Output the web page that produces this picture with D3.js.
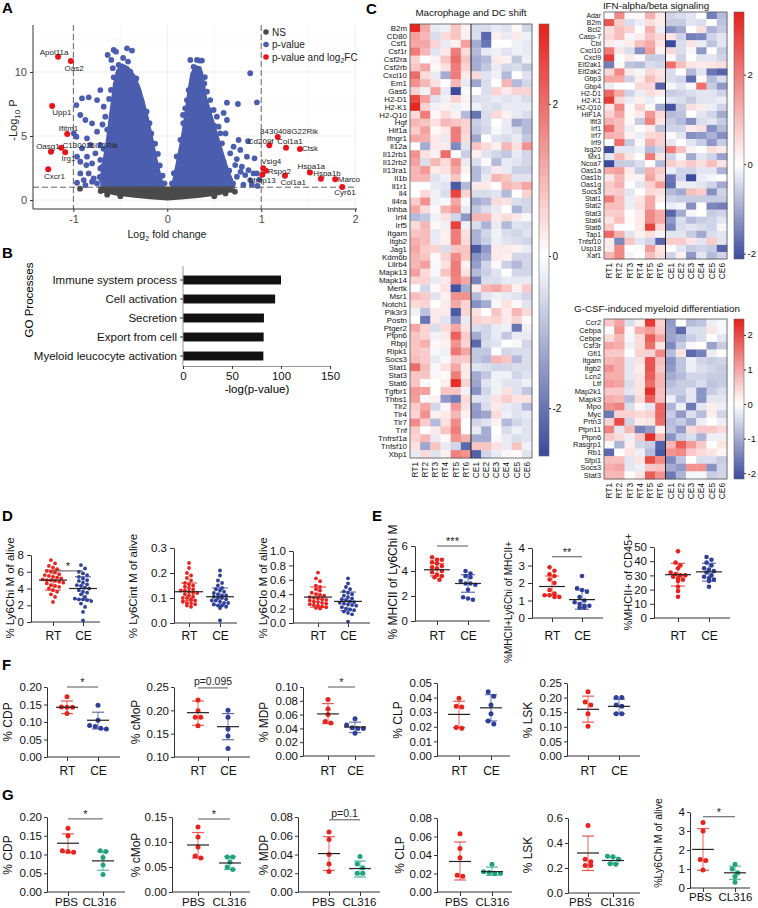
<!DOCTYPE html>
<html><head><meta charset="utf-8">
<script src="https://cdn.jsdelivr.net/npm/d3@7/dist/d3.min.js"></script>
<style>
html,body{margin:0;padding:0;background:#fff;}
svg{display:block;font-family:"Liberation Sans",Arial,Helvetica,sans-serif;}
</style></head>
<body><svg id="fig" width="758" height="908"></svg>
<script>
// ================= DATA =================
// ---- Panel A: volcano ----
const volcanoLegendLabels = ["NS", "p-value", "p-value and log"];
const volcanoXTicks = [-1, 0, 1, 2];
const volcanoYTicks = [0, 5, 10];
const volcanoGridX = [-1, -0.5, 0, 0.5, 1, 1.5, 2];
const volcanoGridY = [0, 2.5, 5, 7.5, 10, 12.5];
const fcCutoffs = [-1, 1];
const pCutoff = 1;
const redGenes = ["Apol11a","Oas2","Upp1","Ifitm1","Oasg1","C130026I21Rik","Irg1","Cxcr1","8430408G22Rik","Cd209f","Col1a1","Ctsk","Vsig4","Rspo2","Mmp13","Col1a1","Hspa1a","Hspa1b","Marco","Cyr61"];
const redFC = [-1.163,-1.027,-1.226,-1.066,-1.239,-1.13,-1.087,-1.268,1.176,1.086,1.264,1.413,1.022,1.048,1.012,1.253,1.519,1.636,1.788,1.863];
const redLogP = [11.2,10.86,7.34,5.16,3.77,4.09,3.73,2.4,4.92,4.27,4.09,3.98,2.48,2.29,1.98,1.9,2.16,1.66,1.62,1.02];
// dense clouds (outline of the overlapping points) [log2FC, -log10P]
const blueCloudLeft = [[-0.713,1.0],[-0.713,2.08],[-0.677,3.65],[-0.649,4.95],[-0.624,6.51],[-0.599,7.81],[-0.578,9.11],[-0.543,10.16],[-0.482,10.68],[-0.411,10.42],[-0.34,9.77],[-0.287,8.85],[-0.245,7.81],[-0.199,6.51],[-0.152,4.95],[-0.11,3.39],[-0.067,2.08],[-0.032,1.1],[-0.032,0.9],[-0.713,0.9]];
const blueCloudRight = [[0.039,0.9],[0.039,1.04],[0.067,2.08],[0.103,3.39],[0.138,4.69],[0.167,5.99],[0.191,7.29],[0.216,8.59],[0.245,9.9],[0.298,10.55],[0.362,10.42],[0.394,9.38],[0.422,8.07],[0.475,6.77],[0.528,5.47],[0.582,4.17],[0.635,2.86],[0.688,1.82],[0.723,1.04],[0.723,0.9]];
const grayCloud = [[-0.74,1.05],[-0.72,0.6],[-0.55,0.35],[-0.35,0.18],[-0.15,0.04],[0,-0.04],[0.15,0.04],[0.35,0.18],[0.55,0.38],[0.68,0.62],[0.70,1.05]];
const blueScatter = [[-0.635,11.33],[-0.571,11.72],[-0.546,11.59],[-0.429,11.85],[-0.376,11.67],[-0.596,10.94],[-0.518,10.55],[-0.457,10.29],[-0.418,10.81],[-0.394,10.03],[-0.571,9.58],[-0.507,9.43],[-0.447,9.69],[-0.358,9.38],[-0.323,8.8],[-0.713,8.59],[-0.908,7.94],[-0.837,8.02],[-0.968,7.42],[-0.748,7.81],[-0.677,7.29],[-0.926,6.64],[-0.872,6.25],[-0.801,5.99],[-0.748,5.34],[-0.713,4.3],[-0.961,3.39],[-0.926,2.99],[-0.862,2.73],[-0.837,2.08],[-0.784,1.69],[-0.89,1.56],[-0.748,1.3],[-0.996,5.21],[-0.968,4.95],[-0.855,4.82],[-0.819,4.3],[-0.908,4.04],[-0.766,3.65],[-0.855,3.39],[-0.713,3.13],[-0.801,2.86],[-0.713,2.47],[-0.66,2.08],[-0.695,1.56],[-0.926,2.08],[-0.961,1.35],[-0.872,1.17],[-0.801,1.43],[-0.66,6.51],[-0.64,5.5],[-0.69,5.9],[-0.62,7.9],[-0.6,8.6],[-0.52,9.9],[-0.47,11.1],[-0.33,9.5],[-0.3,8.4],[-0.27,7.6],[-0.22,6.9],[-0.19,6.0],[-0.17,5.2],[-0.13,4.4],[-0.1,3.6],[-0.08,2.7],[-0.05,1.9],[-0.03,1.3],[-0.69,2.6],[-0.68,4.0],[-0.72,1.8],[-0.58,10.3],[-0.55,9.0],
[0.245,10.94],[0.316,10.94],[0.344,10.89],[0.369,10.89],[0.298,10.16],[0.351,9.9],[0.28,9.38],[0.394,9.11],[0.333,8.85],[0.422,8.46],[0.351,8.2],[0.262,8.07],[0.457,7.81],[0.493,7.03],[0.528,6.51],[0.546,5.73],[0.564,5.21],[0.635,7.6],[0.752,7.5],[0.883,9.9],[0.954,7.63],[0.759,4.69],[0.706,4.17],[0.67,3.65],[0.848,3.39],[0.929,3.26],[0.723,2.73],[0.794,2.6],[0.865,2.34],[0.918,2.08],[0.83,1.95],[0.741,1.82],[0.67,1.56],[0.883,1.56],[0.954,2.08],[0.635,6.25],[0.582,4.43],[0.777,3.91],[0.528,3.65],[0.191,7.16],[0.167,6.64],[0.209,7.81],[0.227,8.59],[0.262,8.85],[0.1,3.4],[0.07,2.1],[0.05,1.3],[0.14,4.7],[0.17,6.0],[0.6,3.0],[0.66,2.3],[0.7,1.3],[0.45,7.0],[0.5,5.8],[0.4,9.6],[0.28,10.4],[0.9,1.2],[0.96,1.1],[0.98,1.6],[0.81,1.2],[0.86,4.6],[0.6,6.8],[0.62,5.2],[0.74,3.2],[0.78,2.2],[0.56,2.0],[0.45,3.0]];
const grayScatter = [[-0.93,0.89],[-0.65,0.78],[-0.64,0.42],[0.62,0.52],[0.72,0.65],[-0.71,0.7],[0.68,0.8],[-0.5,0.3],[0.5,0.3]];

// ---- Panel B ----
const goTerms = ["Immune system process","Cell activation","Secretion","Export from cell","Myeloid leucocyte activation"];
const goValues = [100, 94, 82.6, 82.3, 82];
const goTicks = [0, 50, 100, 150];

// ---- Panel C heatmaps ----
const samples = ["RT1","RT2","RT3","RT4","RT5","RT6","CE1","CE2","CE3","CE4","CE5","CE6"];
const macroGenes = ["B2m","CD80","Csf1","Csf1r","Csf2ra","Csf2rb","Cxcl10","Em1","Gas6","H2-D1","H2-K1","H2-Q10","Hgf","Hif1a","Ifngr1","Il12a","Il12rb1","Il12rb2","Il13ra1","Il1b","Il1r1","Il4","Il4ra","Inhba","Irf4","Irf5","Itgam","Itgb2","Jag1","Kdm6b","Lilrb4","Mapk13","Mapk14","Mertk","Msr1","Notch1","Pik3r3","Postn","Ptger2","Ptpn6","Rbpj","Ripk1","Socs3","Stat1","Stat3","Stat6","Tgfbr1","Thbs1","Tlr2","Tlr4","Tlr7","Tnf","Tnfrsf1a","Tnfsf10","Xbp1"];
const macroValues = [
[3,1.2,-0.3,-0.2,0.8,0.2,-0.5,-0.5,-0.3,-0.4,0.1,-0.6],
[1.3,1.0,-0.5,0.5,0.8,0.2,-0.5,-2.2,0.2,-0.3,0.3,-0.2],
[1.2,1.2,0.6,-0.3,0.2,1.3,-1.2,-2.0,0,0,-0.2,-0.3],
[1.8,1.0,-0.4,0.3,1.8,0.5,-1.0,-0.3,-0.2,-0.4,-0.2,-0.3],
[0.6,0,0.2,0.8,2.0,0.8,-1.2,-1.0,0.3,0.2,-0.8,-0.2],
[0.8,1.2,0.1,0.4,1.8,0.6,-1.2,-0.8,-0.3,-0.6,-0.5,-0.8],
[2.0,0.5,-0.3,-1.2,1.8,0.3,0.5,-0.4,-0.2,-1.0,0,-0.4],
[1.5,1.0,0.4,0,1.0,-0.3,-1.3,-0.5,0,1.0,-1.0,-0.6],
[0.6,-0.2,1.3,-0.3,-2.6,-0.1,0,-0.5,0.6,0.3,0.6,0.6],
[2.5,1.3,-0.4,-0.2,0.6,0.2,-0.5,-0.4,-0.3,-0.4,-0.3,-0.5],
[3.0,0.6,-0.2,0.2,-0.2,-0.1,-0.2,-0.4,-0.5,-0.3,-0.3,-0.3],
[0.5,1.8,0.1,0.5,0.2,-1.0,-2.0,-0.5,0.5,0.2,-0.3,-0.5],
[1.0,0.8,0.4,1.0,0.8,0.6,-0.7,-0.5,0,-0.3,-1.3,-1.0],
[0.7,1.3,0.1,0.3,1.8,0.6,-0.8,-0.6,-0.1,-0.3,-0.5,-1.0],
[1.2,1.1,0.3,-0.3,1.8,0.5,-1.3,0,-0.4,-0.5,-0.3,-0.8],
[0,-1.2,0.3,0.3,-1.7,-0.4,0.8,0.5,0.2,1.0,0.4,1.5],
[1.5,0.4,0.2,2.0,0,-0.7,0.2,-0.4,-0.6,-0.8,-0.3,-0.6],
[1.3,-0.5,1.0,0.5,1.5,-0.3,-0.5,0.1,-1.0,-0.3,-0.4,-0.6],
[1.0,1.4,0.3,0.4,1.2,0.2,-1.0,-0.5,0.3,-0.3,-0.7,-0.7],
[1.0,1.0,-0.4,-0.2,0.8,0,-1.0,-0.3,1.0,0.8,-0.4,-0.4],
[0,0,-0.3,-0.4,-2.4,-1.0,0.3,0.3,0,1.0,0.8,1.2],
[0,0.5,-0.2,-0.5,2.6,0.6,-0.5,-0.5,-0.4,-1.0,0,0.6],
[0.7,1.5,-0.2,-0.1,1.2,-0.1,-1.2,-1.0,0.5,0.4,-0.5,-0.6],
[1.2,0.5,-0.1,1.0,1.5,-0.3,-0.8,-0.5,-0.3,0,-1.1,-0.6],
[-1.0,-0.8,-0.2,0.4,-0.6,-1.5,1.0,1.0,0.3,0.5,0.3,-0.1],
[0.5,1.0,0.1,-0.2,2.6,-0.2,-0.5,-1.1,-0.3,-1.0,-0.4,-0.5],
[0.8,0.9,-0.3,0.2,1.8,0.4,-1.1,-0.6,-0.2,-0.5,-0.6,-0.4],
[1.1,0.9,-0.3,0.2,1.8,0.5,-1.1,-0.7,-0.2,-0.4,-0.5,-0.6],
[1.2,0.7,0.6,-0.5,0.8,0.8,-2.4,-1.5,0.3,0.3,0.2,-0.3],
[1.0,0.8,0.1,0.6,1.6,0.8,-1.6,-1.2,0.3,0.2,-0.6,-0.6],
[1.0,1.3,-0.1,0.4,1.8,0.2,-1.4,-0.6,0.1,-0.7,-1.0,-0.6],
[1.3,0.5,-0.1,0.8,1.8,0.4,-1.0,-0.7,-0.4,0,-0.6,-0.6],
[0.6,0.6,-0.3,0.3,1.7,1.2,-1.8,-0.5,-0.5,-0.3,-0.3,-0.3],
[0,-0.6,0.1,0.4,-2.5,-1.2,0.3,1.0,1.2,0.8,0.2,0.7],
[0.9,0.7,-0.4,0.2,1.5,1.5,-1.0,-0.4,-0.2,-0.3,-0.4,-0.6],
[0.5,0.6,0,0.3,1.2,0.6,-1.6,-1.2,-0.1,0.4,0.1,-0.4],
[-0.2,-0.9,0.3,0.3,-2.4,0.6,0.4,0,0.8,0.3,1.0,0.5],
[0,-2.0,0.3,-0.4,-1.6,-0.3,0.6,0.5,0.6,0.3,0.6,0.1],
[1.2,0.6,-0.5,0.5,1.2,0.4,-0.5,-0.6,-0.3,-0.2,-2.0,-0.2],
[0.8,0.6,-0.2,0.3,2.2,0.7,-1.2,-0.6,-0.3,-0.8,-0.3,-0.3],
[0.8,1.1,0.1,0.2,1.5,0.6,-2.2,-0.5,-0.4,0,-0.1,-0.6],
[0.8,0.7,-0.1,-0.2,1.9,1.2,-0.8,-0.8,0,-0.6,-0.5,-0.5],
[0.9,0.7,-0.3,-0.1,0.8,0.7,-0.8,-1.0,1.0,0.8,-1.0,-0.5],
[2.0,0.9,-0.1,0.4,1.2,0.3,-0.4,-0.5,-0.6,-0.6,-0.5,-0.5],
[0.8,0.8,-0.1,0.1,1.8,0.3,-1.2,-0.8,-0.2,-0.2,-0.6,-0.4],
[0.8,-0.1,0,0.2,2.9,0.6,-1.3,-0.4,-0.2,-0.4,-0.4,-0.2],
[1.4,1.3,0,0.8,0.8,-0.2,-1.6,-0.6,-0.2,0.4,-0.4,-0.8],
[1.3,-0.1,0.2,-1.5,-1.9,0.5,-0.4,-0.4,0.4,0.7,0.4,0.4],
[0.7,1.2,-0.6,-0.1,1.4,0.4,-1.4,-0.5,0.3,-0.3,-0.4,-1.0],
[0.6,1.5,0.2,0.3,1.0,0.2,-1.5,-1.3,0.5,-0.2,-0.4,-0.3],
[1.6,0.7,-1.0,0.4,1.6,0,-0.6,-0.4,0.2,-1.0,-0.6,-0.4],
[0.7,0,0.3,0.8,1.8,0,-0.3,-1.2,0,-0.5,-0.2,-0.4],
[0.6,1.0,-0.3,0.1,1.5,1.1,-1.2,-1.2,-0.1,-0.3,-0.5,-0.4],
[0.4,-1.3,0.8,-0.3,-0.6,-2.2,0.8,0.8,0.4,-0.3,0.8,-0.2],
[-0.3,0.5,-0.4,0.2,1.7,1.5,-2.3,-0.6,-0.3,-0.1,0.1,-0.4]];
const ifnGenes = ["Adar","B2m","Bcl2","Casp-7","Cbl","Cxcl10","Cxcl9","Eif2ak1","Eif2ak2","Gbp3","Gbp4","H2-D1","H2-K1","H2-Q10","HIF1A","Ifit3","Irf1","Irf7","Irf9","Isg20","Mx1","Ncoa7","Oas1a","Oas1b","Oas1g","Socs3","Stat1","Stat2","Stat3","Stat4","Stat6","Tap1","Tnfsf10","Usp18","Xaf1"];
const ifnValues = [
[0,1.8,0.1,0.1,1.2,0.3,-0.5,-0.4,-0.3,0,-1.5,-0.8],
[2.6,0.8,-0.4,-0.2,0.5,0.3,-0.6,-0.6,-0.3,-0.4,0,-0.7],
[0.5,1.0,0.7,0,1.2,-0.2,-1.3,-1.0,0,0.5,-0.9,-0.6],
[0.6,1.0,-0.1,0.3,0.9,0.6,0.4,-0.5,-1.5,-1.4,-0.5,-0.3],
[0.3,-0.1,0.3,1.0,1.3,0.4,-2.3,-0.4,0.4,-0.2,-0.7,-0.3],
[2.0,0.4,-0.4,-1.3,1.5,0.2,0.6,-0.4,-0.1,-1.2,0,-0.6],
[3.0,0,0.3,0.1,-0.6,-0.6,0.1,-0.5,0,-0.3,-0.3,-0.5],
[-1.5,0.1,-0.7,-0.8,-0.4,-0.5,2.2,1.0,0.4,0.3,0.4,0.5],
[0.6,1.8,0.3,-0.1,0.6,0.4,-0.4,0,-0.8,-0.3,-1.6,-1.8],
[1.3,1.3,-0.5,0.3,1.0,0.5,-0.4,-0.5,-1.7,0.1,-0.8,-0.4],
[-0.2,0,0,0.6,0.6,-1.8,-0.1,-0.3,0.1,2.2,-0.6,-1.2],
[2.3,1.3,-0.5,-0.2,0.5,0.3,-0.6,-0.5,-0.4,-0.3,-0.3,-0.5],
[3.0,0.6,-0.2,0.2,-0.2,0,-0.3,-0.4,-0.6,-0.3,-0.3,-0.2],
[0.4,1.8,0.1,0.7,0.1,-1.0,-2.0,-0.6,0.5,0.3,-0.2,-0.5],
[0.7,1.4,0.1,0.3,1.6,0.6,-0.8,-0.7,0,-0.3,-0.5,-1.0],
[1.2,1.0,0.1,-0.6,1.9,0.4,-0.6,-0.8,-1.3,-0.4,-0.3,-0.6],
[2.2,1.0,-0.2,0,0.3,-0.7,-0.5,-0.5,0.3,0.5,-1.3,-0.8],
[1.2,1.1,0.2,-0.2,0.6,0.7,0.1,-0.3,-1.3,-1.2,-0.9,-1.3],
[0,2.2,-0.6,0.1,1.2,0.7,-0.3,0,-0.3,-0.6,-1.2,-0.6],
[-2.2,-0.3,-0.3,-0.2,-0.8,-0.5,2.0,0.9,0.2,0,0.5,0.3],
[-0.3,1.1,0.4,0,2.0,0.4,-0.5,-0.1,-1.0,-0.3,-0.5,-1.1],
[-2.2,-0.6,-0.6,-0.4,0,-0.8,0.8,0.5,0.8,0.5,1.0,0.4],
[1.3,1.5,0.3,-0.6,1.2,0.8,-0.2,-0.5,-0.5,-0.3,-0.3,-0.9],
[0.4,1.1,0.2,0.2,1.4,0.6,-1.6,-0.5,-2.2,-0.2,-0.1,0],
[0.8,1.2,0,-0.3,0.7,1.5,-1.7,-0.2,-0.2,-0.3,-0.5,-1.0],
[0.7,0.8,-0.3,0,0.6,0.5,-0.8,-1.0,1.0,0.8,-1.3,-0.5],
[2.0,1.0,-0.2,0.4,1.3,0.3,-0.5,-0.6,-0.6,-0.6,-0.6,-0.6],
[1.0,1.0,-0.2,0.5,1.3,0,-0.2,-0.1,-1.3,0,-1.4,-1.5],
[0.8,0.8,0,0.3,1.8,1.3,-1.8,-1.0,-0.1,0,-0.6,-0.5],
[0.4,1.0,0.1,0.3,1.8,1.3,-1.2,-0.4,-0.8,-0.6,-0.5,-0.3],
[0.8,0,0,0.3,2.9,0.6,-1.4,-0.4,-0.3,-0.4,-0.5,-0.1],
[2.3,1.2,-0.3,0.2,0.5,-0.1,-0.3,-0.3,-0.6,-1.0,-0.4,-0.3],
[0.3,-1.4,0.9,-0.3,-0.5,-1.8,0.8,0.8,0.4,-0.3,0.8,-0.3],
[0.3,1.8,0,0.1,1.5,0.4,0,-0.3,-0.6,-0.5,-0.6,-1.8],
[1.1,1.8,-0.1,0,1.0,0.5,-0.5,0.2,-1.2,-0.3,-0.8,-0.5]];
const gcsfGenes = ["Ccr2","Cebpa","Cebpe","Csf3r","Gfi1","Itgam","Itgb2","Lcn2","Ltf","Map2k1","Mapk3","Mpo","Myc","Prtn3","Ptpn11","Ptpn6","Rasgrp1","Rb1","Sfpi1","Socs3","Stat3"];
const gcsfValues = [
[0.6,1.0,-0.4,0.2,2.2,0.5,-1.2,0,-0.8,-0.7,-0.2,-0.1],
[0,1.2,0.1,0.9,1.1,0.6,-1.1,-1.8,-0.4,-0.4,0.3,-0.1],
[0.4,0.8,-0.1,0.4,1.8,1.0,-1.1,-0.9,-0.6,-0.4,0,-0.3],
[1.0,0.9,-0.2,0.4,1.6,0.3,-1.4,-0.6,0.1,0,-1.1,-0.6],
[0.6,0.6,0,0.5,0.5,1.3,-0.8,0.3,-1.8,-1.5,-0.2,0],
[0.8,0.9,-0.3,0.3,1.9,0.7,-1.3,-0.7,-0.2,-0.5,-0.6,-0.5],
[1.2,0.9,-0.3,0.2,1.9,0.6,-1.2,-0.7,-0.2,-0.4,-0.5,-0.6],
[0.9,0.9,-0.3,0.3,1.8,0.8,-1.0,-0.8,-0.5,-0.5,-0.6,-0.6],
[1.1,1.0,-0.4,0.3,1.6,0.8,-0.8,-0.6,-0.6,-0.4,-0.7,-0.6],
[0.6,0.6,-0.3,0.3,2.3,0.7,-0.6,-0.6,-0.3,-1.3,-0.6,-0.4],
[0.9,0.8,-0.8,0.4,1.8,0.7,-0.2,-0.8,-0.3,-1.3,-0.3,-0.3],
[1.2,1.4,-0.4,0.1,-0.3,1.7,-0.9,-0.2,-1.6,-0.3,0.2,-0.2],
[-1.6,0.5,0.5,0.4,0.5,1.7,-0.6,-1.2,-0.4,-0.8,0.2,-0.5],
[0.5,2.0,-0.5,0.2,0.3,1.6,-0.8,-0.6,-1.0,-0.2,0,-0.2],
[1.4,-0.3,0.8,-1.5,-1.2,0.2,-0.7,-1.2,0.4,0.6,0.6,0.4],
[0.6,0.4,-0.2,0.6,2.3,0.8,-1.3,-0.6,-0.4,-0.9,-0.2,-0.2],
[-0.1,-0.9,0.2,-0.5,-0.6,-1.9,0.8,1.8,1.1,0.6,0,0.3],
[-1.8,0,0.3,-0.2,-0.8,-2.0,1.2,1.3,0.6,0.4,0.3,0.1],
[0.7,0.7,-0.3,0.3,2.0,1.3,-1.4,-0.7,0,-0.4,-0.4,-0.6],
[0.9,1.0,-0.3,-0.2,0.6,0.7,-1.0,-1.2,1.2,1.2,-1.3,-0.5],
[0.8,0.8,0,0.3,1.8,1.2,-1.6,-0.9,-0.1,-0.1,-0.6,-0.5]];
const macroScale = [-2.63, 3.05], ifnScale = [-2.12, 3.4], gcsfScale = [-2.17, 2.46];
const macroTicks = [-2, 0, 2], ifnTicks = [-2, 0, 2], gcsfTicks = [-2, -1, 0, 1, 2];

// ---- Panels D-G (dot plots) ----
const rtce = ["RT", "CE"], pbscl = ["PBS", "CL316"];
const d1RT = [7.4,7.0,6.7,6.5,6.3,6.1,6.0,5.9,5.7,5.6,5.5,5.4,5.3,5.2,5.1,5.0,5.0,4.9,4.8,4.7,4.6,4.4,4.3,4.2,4.0,3.8,3.6,3.3,3.0,2.4];
const d1CE = [6.8,6.4,6.0,5.8,5.6,5.4,5.2,5.0,4.9,4.7,4.5,4.4,4.3,4.1,4.0,3.8,3.6,3.5,3.3,3.0,2.8,2.7,2.7,2.6,2.5,2.2,1.8,1.2,0.2];
const d2RT = [0.24,0.22,0.2,0.19,0.18,0.17,0.16,0.155,0.15,0.145,0.14,0.135,0.13,0.13,0.125,0.12,0.12,0.115,0.11,0.105,0.1,0.1,0.095,0.09,0.085,0.08,0.08,0.075,0.07,0.065];
const d2CE = [0.21,0.19,0.17,0.16,0.15,0.14,0.135,0.13,0.125,0.12,0.115,0.11,0.11,0.105,0.1,0.1,0.095,0.09,0.09,0.085,0.08,0.08,0.075,0.07,0.07,0.065,0.06,0.01];
const d3RT = [0.7,0.62,0.58,0.52,0.5,0.47,0.45,0.42,0.4,0.39,0.38,0.36,0.35,0.34,0.33,0.32,0.31,0.3,0.29,0.28,0.27,0.26,0.25,0.24,0.23,0.22,0.21,0.2];
const d3CE = [0.62,0.55,0.5,0.47,0.44,0.42,0.4,0.38,0.36,0.34,0.33,0.32,0.3,0.29,0.28,0.27,0.26,0.25,0.24,0.22,0.2,0.19,0.18,0.16,0.14,0.12,0.02];
const e1RT = [5.1,4.9,4.9,4.7,4.6,4.4,4.3,4.2,4.0,3.9,3.7,3.6,3.5,3.3];
const e1CE = [4.0,3.8,3.6,3.5,3.2,3.0,3.0,2.9,2.5,1.9,1.7,1.8];
const e2RT = [2.9,2.7,2.5,2.4,2.2,2.0,1.6,1.4,1.3,1.3,1.2,1.2];
const e2CE = [2.4,1.7,1.6,1.5,1.2,1.0,0.9,0.8,0.7,0.7,0.6,0.6];
const e3RT = [47,39,37,35,32,31,30,30,29,28,27,26,22,19,15];
const e3CE = [43,41,39,37,35,34,33,32,30,29,28,27,26,22];
const f1RT = [0.172,0.143,0.142,0.142,0.124], f1CE = [0.148,0.105,0.09,0.087,0.082,0.08];
const f2RT = [0.222,0.199,0.185,0.185,0.167], f2CE = [0.2,0.185,0.16,0.145,0.118];
const f3RT = [0.082,0.068,0.06,0.05,0.048], f3CE = [0.054,0.045,0.041,0.04,0.04,0.033];
const f4RT = [0.0395,0.034,0.0335,0.0195,0.019], f4CE = [0.044,0.041,0.035,0.029,0.024,0.022];
const f5RT = [0.22,0.185,0.175,0.145,0.102], f5CE = [0.2,0.2,0.175,0.17,0.145,0.145];
const g1PBS = [0.17,0.15,0.11,0.108,0.106], g1CL = [0.11,0.108,0.092,0.072,0.047];
const g2PBS = [0.13,0.11,0.09,0.072,0.068], g2CL = [0.07,0.07,0.06,0.05,0.045];
const g3PBS = [0.064,0.056,0.04,0.03,0.022], g3CL = [0.038,0.03,0.026,0.02,0.02];
const g4PBS = [0.063,0.047,0.037,0.018,0.017], g4CL = [0.03,0.022,0.021,0.02,0.02];
const g5PBS = [0.54,0.27,0.25,0.22,0.22], g5CL = [0.295,0.29,0.27,0.235,0.23];
const g6PBS = [3.45,3.0,1.5,1.45,0.95], g6CL = [1.25,1.0,0.8,0.6,0.3];
// [mean, lower SD, upper SD] per group
const summaries = {
  D1:[[5.0,3.8,6.2],[4.0,2.7,5.4]], D2:[[0.125,0.09,0.16],[0.105,0.07,0.14]], D3:[[0.36,0.22,0.5],[0.3,0.17,0.43]],
  E1:[[4.1,3.6,4.6],[3.0,2.3,3.7]], E2:[[1.8,1.3,2.4],[1.05,0.5,1.6]], E3:[[30.5,22.5,38.5],[32.5,26,38.5]],
  F1:[[0.142,0.124,0.16],[0.105,0.08,0.128]], F2:[[0.195,0.168,0.22],[0.165,0.137,0.193]], F3:[[0.061,0.047,0.076],[0.042,0.034,0.049]],
  F4:[[0.0285,0.0195,0.0375],[0.033,0.024,0.042]], F5:[[0.16,0.116,0.205],[0.17,0.145,0.195]],
  G1:[[0.13,0.105,0.155],[0.083,0.058,0.108]], G2:[[0.094,0.068,0.119],[0.058,0.045,0.071]], G3:[[0.041,0.023,0.059],[0.025,0.016,0.033]],
  G4:[[0.033,0.013,0.054],[0.022,0.018,0.027]], G5:[[0.32,0.18,0.455],[0.26,0.235,0.285]], G6:[[2.03,0.93,3.13],[0.8,0.45,1.15]]
};
const dotTicks = {
  D1:[0,2,4,6,8], D2:[0,0.1,0.2,0.3], D3:[0,0.2,0.4,0.6,0.8,1.0], E1:[0,2,4,6], E2:[0,1,2,3,4], E3:[0,10,20,30,40,50],
  F1:[0,0.05,0.1,0.15,0.2], F2:[0.1,0.15,0.2,0.25], F3:[0,0.02,0.04,0.06,0.08,0.1], F4:[0,0.01,0.02,0.03,0.04,0.05], F5:[0,0.05,0.1,0.15,0.2,0.25],
  G1:[0,0.05,0.1,0.15,0.2], G2:[0,0.05,0.1,0.15], G3:[0,0.02,0.04,0.06,0.08], G4:[0,0.02,0.04,0.06,0.08], G5:[0,0.2,0.4,0.6], G6:[0,1,2,3,4]
};
const dotTitles = {
  D1:"% Ly6Chi M of alive", D2:"% Ly6Cint M of alive", D3:"% Ly6Clo M of alive",
  E1:"% MHCII of Ly6Chi M", E2:"%MHCII+Ly6Chi of MHCII+", E3:"%MHCII+ of CD45+",
  F1:"% CDP", F2:"% cMoP", F3:"% MDP", F4:"% CLP", F5:"% LSK",
  G1:"% CDP", G2:"% cMoP", G3:"% MDP", G4:"% CLP", G5:"% LSK", G6:"%Ly6Chi M of alive"
};
const dotSig = { // [label, y value of bracket]
  D1:["*",6.1], E1:["***",6.0], E2:["**",3.5], F1:["*",0.2], F2:["p=0.095",0.248], F3:["*",0.1],
  G1:["*",0.195], G2:["*",0.146], G3:["p=0.1",0.077], G6:["*",3.75]
};
const dotData = {
  D1:[d1RT,d1CE], D2:[d2RT,d2CE], D3:[d3RT,d3CE], E1:[e1RT,e1CE], E2:[e2RT,e2CE], E3:[e3RT,e3CE],
  F1:[f1RT,f1CE], F2:[f2RT,f2CE], F3:[f3RT,f3CE], F4:[f4RT,f4CE], F5:[f5RT,f5CE],
  G1:[g1PBS,g1CL], G2:[g2PBS,g2CL], G3:[g3PBS,g3CL], G4:[g4PBS,g4CL], G5:[g5PBS,g5CL], G6:[g6PBS,g6CL]
};

// ================= LAYOUT / STYLE =================
const RED = "#E8221D", BLUE = "#2F3F98", GREEN = "#1EA37A";
const HM_BLUE = "#3A4A9C", HM_RED = "#E4211C";
const redLabelOffset = [[-4,-4.3],[3.3,7.3],[9.7,5.7],[1.3,-6],[-3,-6],[29,-2],[3.3,6],[6.3,6.4],[11.3,-6],[-8.6,-4.3],[4,-6.4],[10,-1.3],[8,-6.6],[13.6,0],[0,5.6],[8.3,6.3],[1.3,-6.6],[6,-5.4],[13.7,0],[2.7,5.7]];
const dotLayout = {
  D1:{ax:31,xEnd:100,y0:622,y1:555,gx:[53,83],tx:10,ty:588,tfs:11.5,labY:640,r:1.9,sp:4.1,meanW:28,capW:16},
  D2:{ax:174,xEnd:237,y0:623,y1:548,gx:[189,220],tx:133,ty:586,tfs:11.5,labY:640,r:1.9,sp:4.1,meanW:28,capW:16},
  D3:{ax:293,xEnd:370,y0:623,y1:551,gx:[318,348],tx:263,ty:588,tfs:11.5,labY:640,r:1.9,sp:4.1,meanW:28,capW:16},
  E1:{ax:415,xEnd:490,y0:621,y1:546,gx:[437,468],tx:393,ty:582,tfs:12,labY:640,r:2.3,sp:4.9,meanW:26,capW:14},
  E2:{ax:532,xEnd:603,y0:618,y1:548,gx:[552,582],tx:508,ty:602,tfs:10,labY:640,r:2.3,sp:4.9,meanW:26,capW:14},
  E3:{ax:654,xEnd:730,y0:618,y1:547,gx:[678,709],tx:628,ty:582,tfs:11,labY:640,r:2.3,sp:4.9,meanW:26,capW:14},
  F1:{ax:47,xEnd:120,y0:757,y1:687,gx:[67,98],tx:8,ty:722,tfs:12,labY:775,r:2.5,sp:5.6,meanW:22,capW:12},
  F2:{ax:174,xEnd:250,y0:757,y1:687,gx:[198,228],tx:136,ty:722,tfs:12,labY:775,r:2.5,sp:5.6,meanW:22,capW:12},
  F3:{ax:303,xEnd:375,y0:756,y1:687,gx:[328,355],tx:264,ty:722,tfs:12,labY:775,r:2.5,sp:5.6,meanW:22,capW:12},
  F4:{ax:437,xEnd:510,y0:756,y1:683,gx:[459,491],tx:398,ty:720,tfs:12,labY:775,r:2.5,sp:5.6,meanW:22,capW:12},
  F5:{ax:567,xEnd:640,y0:756,y1:683,gx:[588,619],tx:528,ty:720,tfs:12,labY:775,r:2.5,sp:5.6,meanW:22,capW:12},
  G1:{ax:47,xEnd:125,y0:892,y1:817,gx:[68,103],labX:[66,99],tx:8,ty:855,tfs:12,labY:906,r:2.5,sp:5.6,meanW:22,capW:12},
  G2:{ax:172,xEnd:250,y0:892,y1:817,gx:[198,230],labX:[193,229],tx:136,ty:855,tfs:12,labY:906,r:2.5,sp:5.6,meanW:22,capW:12},
  G3:{ax:298,xEnd:380,y0:892,y1:817,gx:[329,360],labX:[323,359],tx:264,ty:855,tfs:12,labY:906,r:2.5,sp:5.6,meanW:22,capW:12},
  G4:{ax:437,xEnd:512,y0:892,y1:818,gx:[460,492],labX:[456,492],tx:400,ty:855,tfs:12,labY:906,r:2.5,sp:5.6,meanW:22,capW:12},
  G5:{ax:568,xEnd:640,y0:893,y1:818,gx:[588,613],labX:[580,617],tx:528,ty:855,tfs:12,labY:906,r:2.5,sp:5.6,meanW:22,capW:12},
  G6:{ax:690,xEnd:750,y0:888,y1:812,gx:[703,735],labX:[700,735],tx:658,ty:843,tfs:10.5,labY:901,r:2.5,sp:5.6,meanW:22,capW:12}
};
const dotFormats = {D1:"d",D2:".1f",D3:".1f",E1:"d",E2:"d",E3:"d",F1:".2f",F2:".2f",F3:".2f",F4:".2f",F5:".2f",G1:".2f",G2:".2f",G3:".2f",G4:".2f",G5:".1f",G6:"d"};
const hyphenFmt = f => (d => { const s = d3.format(f)(Math.abs(d)); return d < 0 ? "-" + s : s; });

// ================= DRAW =================
const svg = d3.select("#fig");
function styleAxis(sel, fs, col) {
  sel.attr("font-family", null).attr("font-size", fs);
  sel.selectAll("text").attr("fill", col || "#111");
  sel.selectAll("line").attr("stroke", "#333");
  sel.select(".domain").attr("stroke", "#333");
}
function panelLetter(t, x, y) {
  svg.append("text").attr("x", x).attr("y", y).attr("font-size", 15).attr("font-weight", "bold").text(t);
}

// ---- Panel A ----
(function () {
  const g = svg.append("g");
  const x = d3.scaleLinear().domain([-1.43, 2.02]).range([33, 357]);
  const y = d3.scaleLinear().domain([-0.7, 13.67]).range([209, 25]);
  g.selectAll(".gx").data(volcanoGridX).join("line").attr("x1", d => x(d)).attr("x2", d => x(d)).attr("y1", 25).attr("y2", 209)
    .attr("stroke", "#ececec").attr("stroke-width", d => Number.isInteger(d) ? 0.9 : 0.5);
  g.selectAll(".gy").data(volcanoGridY).join("line").attr("y1", d => y(d)).attr("y2", d => y(d)).attr("x1", 33).attr("x2", 357)
    .attr("stroke", "#ececec").attr("stroke-width", d => d % 5 === 0 ? 0.9 : 0.5);
  const line = d3.line().x(d => x(d[0])).y(d => y(d[1])).curve(d3.curveLinearClosed);
  [blueCloudLeft, blueCloudRight].forEach(c => g.append("path").attr("d", line(c)).attr("fill", "#4B5DAE"));
  g.selectAll(".bs").data(blueScatter).join("circle").attr("cx", d => x(d[0])).attr("cy", d => y(d[1])).attr("r", 2.9).attr("fill", "#4B5DAE");
  g.append("path").attr("d", line(grayCloud)).attr("fill", "#4a4a4a");
  g.selectAll(".gs").data(grayScatter).join("circle").attr("cx", d => x(d[0])).attr("cy", d => y(d[1])).attr("r", 2.9).attr("fill", "#4a4a4a");
  g.selectAll(".vc").data(fcCutoffs).join("line").attr("x1", d => x(d)).attr("x2", d => x(d)).attr("y1", 25).attr("y2", 209)
    .attr("stroke", "#555").attr("stroke-dasharray", "6,3").attr("stroke-width", 0.9);
  g.append("line").attr("x1", 33).attr("x2", 357).attr("y1", y(pCutoff)).attr("y2", y(pCutoff))
    .attr("stroke", "#555").attr("stroke-dasharray", "6,3").attr("stroke-width", 0.9);
  g.selectAll(".rd").data(redGenes).join("circle").attr("cx", (d, i) => x(redFC[i])).attr("cy", (d, i) => y(redLogP[i])).attr("r", 3).attr("fill", "#E8131B");
  g.selectAll(".rl").data(redGenes).join("text").attr("x", (d, i) => x(redFC[i]) + redLabelOffset[i][0]).attr("y", (d, i) => y(redLogP[i]) + redLabelOffset[i][1])
    .attr("dy", "0.35em").attr("text-anchor", "middle").attr("font-size", 8).attr("fill", "#222").text(d => d);
  const xa = g.append("g").attr("transform", "translate(0,209)").call(d3.axisBottom(x).tickValues(volcanoXTicks).tickFormat(hyphenFmt("d")).tickSize(3).tickSizeOuter(0));
  styleAxis(xa, 11, "#4d4d4d"); xa.select(".domain").attr("d", "M33,0H357");
  const ya = g.append("g").attr("transform", "translate(33,0)").call(d3.axisLeft(y).tickValues(volcanoYTicks).tickSize(3).tickSizeOuter(0));
  styleAxis(ya, 11, "#4d4d4d"); ya.select(".domain").attr("d", "M0,25V209");
  const xt = g.append("text").attr("x", 167).attr("y", 238).attr("text-anchor", "middle").attr("font-size", 10.5).attr("fill", "#222");
  xt.append("tspan").text("Log"); xt.append("tspan").attr("font-size", 7.5).attr("dy", 2.5).text("2"); xt.append("tspan").attr("dy", -2.5).text(" fold change");
  const yt = g.append("text").attr("transform", "translate(17,120) rotate(-90)").attr("text-anchor", "middle").attr("font-size", 11).attr("fill", "#222");
  yt.append("tspan").text("-Log"); yt.append("tspan").attr("font-size", 8).attr("dy", 2.5).text("10"); yt.append("tspan").attr("dy", -2.5).text(" P");
  const legCols = ["#4a4a4a", "#4B5DAE", "#E8131B"];
  const lg = g.append("g");
  lg.selectAll("circle").data(volcanoLegendLabels).join("circle").attr("cx", 266).attr("cy", (d, i) => 32 + i * 12.5).attr("r", 2.8).attr("fill", (d, i) => legCols[i]);
  const lt = lg.selectAll("text").data(volcanoLegendLabels).join("text").attr("x", 272).attr("y", (d, i) => 32 + i * 12.5).attr("dy", "0.35em").attr("font-size", 10).attr("fill", "#222").text(d => d);
  lt.filter((d, i) => i === 2).append("tspan").attr("font-size", 7).attr("dy", 2.5).text("2");
  lt.filter((d, i) => i === 2).append("tspan").attr("dy", -2.5).text("FC");
})();

// ---- Panel B ----
(function () {
  const g = svg.append("g");
  const x = d3.scaleLinear().domain([0, 150]).range([183, 330]);
  const y = d3.scaleBand().domain(goTerms).range([270.5, 365.5]).paddingInner(0.53).paddingOuter(0.265);
  g.selectAll("rect").data(goTerms).join("rect").attr("x", x(0)).attr("y", d => y(d)).attr("width", (d, i) => x(goValues[i]) - x(0))
    .attr("height", y.bandwidth()).attr("fill", "#111");
  const ya = g.append("g").attr("transform", "translate(183,0)").call(d3.axisLeft(y).tickSize(3).tickSizeOuter(0));
  styleAxis(ya, 11.5); ya.select(".domain").attr("d", "M0,266V366").attr("stroke", "#999");
  const xa = g.append("g").attr("transform", "translate(0,366)").call(d3.axisBottom(x).tickValues(goTicks).tickSize(3).tickSizeOuter(0));
  styleAxis(xa, 11.5); xa.select(".domain").attr("stroke", "#999");
  g.append("text").attr("x", 257).attr("y", 393).attr("text-anchor", "middle").attr("font-size", 11.5).text("-log(p-value)");
  g.append("text").attr("transform", "translate(33,300) rotate(-90)").attr("text-anchor", "middle").attr("font-size", 11.5).text("GO Processes");
})();

// ---- Panel C ----
function heatmap(cfg, genes, values, dom, ticks, title) {
  const g = svg.append("g");
  const x = d3.scaleBand().domain(samples).range([cfg.left, cfg.right]);
  const y = d3.scaleBand().domain(genes).range([cfg.top, cfg.bottom]);
  const col = d3.scaleLinear().domain([dom[0], 0, dom[1]]).range([HM_BLUE, "#ffffff", HM_RED]).clamp(true);
  genes.forEach((gn, r) => {
    g.selectAll(null).data(values[r]).join("rect").attr("x", (d, c) => x(samples[c])).attr("y", y(gn))
      .attr("width", x.bandwidth() + 0.4).attr("height", y.bandwidth() + 0.4).attr("fill", d => col(d));
  });
  g.append("rect").attr("x", cfg.left).attr("y", cfg.top).attr("width", cfg.right - cfg.left).attr("height", cfg.bottom - cfg.top)
    .attr("fill", "none").attr("stroke", "#555").attr("stroke-width", 0.8);
  g.append("line").attr("x1", x("CE1")).attr("x2", x("CE1")).attr("y1", cfg.top).attr("y2", cfg.bottom).attr("stroke", "#222").attr("stroke-width", 1);
  g.selectAll(".gl").data(genes).join("text").attr("x", cfg.left - 3).attr("y", d => y(d) + y.bandwidth() / 2).attr("dy", "0.35em")
    .attr("text-anchor", "end").attr("font-size", cfg.fs).attr("fill", "#111").text(d => d);
  g.selectAll(".cl").data(samples).join("text").attr("transform", d => `translate(${x(d) + x.bandwidth() / 2},${cfg.bottom + 4}) rotate(-90)`)
    .attr("dy", "0.35em").attr("text-anchor", "end").attr("font-size", 8.3).attr("fill", "#111").text(d => d);
  g.append("text").attr("x", cfg.tx).attr("y", cfg.ty).attr("dy", "0.35em").attr("text-anchor", "middle").attr("font-size", 9.8).attr("fill", "#111").text(title);
  const cy = d3.scaleLinear().domain(dom).range([cfg.cbBottom, cfg.cbTop]);
  const gid = "grad" + cfg.id;
  const grad = svg.append("defs").append("linearGradient").attr("id", gid).attr("x1", 0).attr("x2", 0).attr("y1", 1).attr("y2", 0);
  const stops = [dom[0], 0, dom[1]];
  grad.selectAll("stop").data(stops).join("stop").attr("offset", d => (d - dom[0]) / (dom[1] - dom[0])).attr("stop-color", d => col(d));
  g.append("rect").attr("x", cfg.cbX).attr("y", cfg.cbTop).attr("width", 10).attr("height", cfg.cbBottom - cfg.cbTop).attr("fill", `url(#${gid})`).attr("stroke", "#666").attr("stroke-width", 0.6);
  const ca = g.append("g").attr("transform", `translate(${cfg.cbX + 10},0)`).call(d3.axisRight(cy).tickValues(ticks).tickFormat(hyphenFmt("d")).tickSize(2).tickPadding(1.5).tickSizeOuter(0));
  styleAxis(ca, cfg.cbfs); ca.select(".domain").remove();
}
heatmap({id: 1, left: 410, right: 532, top: 24, bottom: 458, fs: 7.9, tx: 471, ty: 13, cbX: 539, cbTop: 24, cbBottom: 456, cbfs: 10}, macroGenes, macroValues, macroScale, macroTicks, "Macrophage and DC shift");
heatmap({id: 2, left: 604, right: 727, top: 12, bottom: 259, fs: 6.9, tx: 656, ty: 6, cbX: 734, cbTop: 12, cbBottom: 259, cbfs: 9.5}, ifnGenes, ifnValues, ifnScale, ifnTicks, "IFN-alpha/beta signaling");
heatmap({id: 3, left: 604, right: 727, top: 319, bottom: 479, fs: 7.4, tx: 657, ty: 309, cbX: 734, cbTop: 319, cbBottom: 479, cbfs: 9.5}, gcsfGenes, gcsfValues, gcsfScale, gcsfTicks, "G-CSF-induced myeloid differentiation");

// ---- Panels D-G ----
function swarm(vals, yScale, cx, r, sp) {
  const pts = vals.map(v => ({ v, y: yScale(v) })).sort((a, b) => a.y - b.y);
  const rows = []; let cur = null;
  pts.forEach(p => { if (!cur || p.y - cur.y0 > r * 1.8) { cur = { y0: p.y, items: [] }; rows.push(cur); } cur.items.push(p); });
  rows.forEach(row => { const n = row.items.length; row.items.forEach((p, i) => { p.x = cx + (i - (n - 1) / 2) * sp; }); });
  return pts;
}
function dotPlot(id) {
  const L = dotLayout[id], ticks = dotTicks[id], groups = id[0] === "G" ? pbscl : rtce;
  const cols = [RED, id[0] === "G" ? GREEN : BLUE];
  const fg = id[0] === "F" || id[0] === "G";
  const g = svg.append("g");
  const y = d3.scaleLinear().domain([ticks[0], ticks[ticks.length - 1]]).range([L.y0, L.y1]);
  const x = d3.scalePoint().domain(groups).range(L.gx);
  const ya = g.append("g").attr("transform", `translate(${L.ax},0)`).call(d3.axisLeft(y).tickValues(ticks).tickFormat(d3.format(dotFormats[id])).tickSize(fg ? 3 : 4).tickPadding(fg ? 2 : 3).tickSizeOuter(0));
  styleAxis(ya, 11.5);
  const xa = g.append("g").attr("transform", `translate(0,${L.y0})`).call(d3.axisBottom(x).tickSize(4).tickSizeOuter(0));
  styleAxis(xa, id[0] === "G" ? 11.5 : 12);
  xa.select(".domain").attr("d", `M${L.ax},0H${L.xEnd}`);
  xa.selectAll("text").attr("y", L.labY - L.y0).attr("dy", "0");
  if (L.labX) xa.selectAll("text").attr("x", (d, i) => L.labX[i] - x(d));
  g.append("text").attr("transform", `translate(${L.tx},${L.ty}) rotate(-90)`).attr("dy", "0.35em").attr("text-anchor", "middle").attr("font-size", L.tfs).attr("fill", "#111").text(dotTitles[id]);
  groups.forEach((gr, k) => {
    const s = summaries[id][k], cx = x(gr);
    g.append("line").attr("x1", cx).attr("x2", cx).attr("y1", y(s[1])).attr("y2", y(s[2])).attr("stroke", cols[k]).attr("stroke-opacity", 0.6).attr("stroke-width", 1.2);
    [s[1], s[2]].forEach(v => g.append("line").attr("x1", cx - L.capW / 2).attr("x2", cx + L.capW / 2).attr("y1", y(v)).attr("y2", y(v)).attr("stroke", cols[k]).attr("stroke-opacity", 0.75).attr("stroke-width", 1.2));
    const pts = swarm(dotData[id][k], y, cx, L.r, L.sp);
    g.selectAll(null).data(pts).join("circle").attr("cx", d => d.x).attr("cy", d => d.y).attr("r", L.r).attr("fill", cols[k]);
    g.append("line").attr("x1", cx - L.meanW / 2).attr("x2", cx + L.meanW / 2).attr("y1", y(s[0])).attr("y2", y(s[0])).attr("stroke", "#222").attr("stroke-width", 1.2);
  });
  if (dotSig[id]) {
    const [lab, v] = dotSig[id];
    g.append("line").attr("x1", x(groups[0])).attr("x2", x(groups[1])).attr("y1", y(v)).attr("y2", y(v)).attr("stroke", "#555").attr("stroke-width", 1);
    g.append("text").attr("x", (x(groups[0]) + x(groups[1])) / 2).attr("y", y(v) - (lab.length > 3 ? 3 : 1)).attr("text-anchor", "middle")
      .attr("font-size", lab.length > 3 ? 10.5 : 11).attr("fill", "#222").text(lab);
  }
}
Object.keys(dotLayout).forEach(dotPlot);

panelLetter("A", 2, 13); panelLetter("B", 2, 258); panelLetter("C", 366, 14);
panelLetter("D", 2, 521); panelLetter("E", 372, 521); panelLetter("F", 2, 670); panelLetter("G", 2, 800);
</script>
</body></html>
